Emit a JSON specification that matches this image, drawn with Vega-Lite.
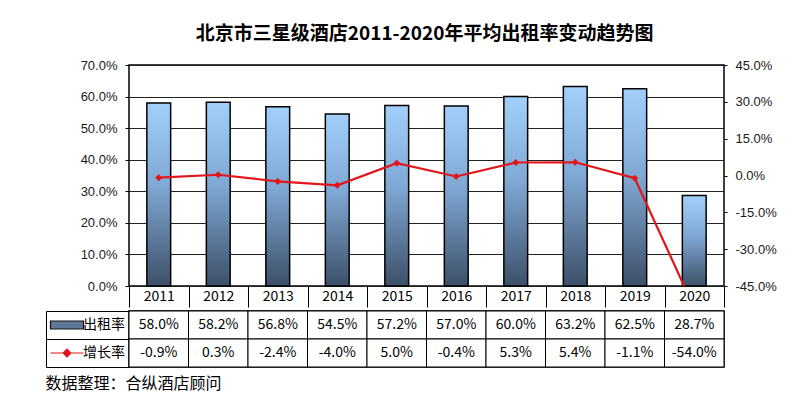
{
  "$schema": "https://vega.github.io/schema/vega-lite/v6.json",
  "background": "white",
  "padding": {"left": 44, "top": 25, "right": 5, "bottom": 5},
  "title": {
    "text": "北京市三星级酒店2011-2020年平均出租率变动趋势图",
    "font": "Noto Sans CJK SC",
    "fontSize": 19,
    "fontWeight": "bold",
    "color": "black",
    "anchor": "start",
    "frame": "bounds",
    "dx": 151,
    "offset": 14
  },
  "config": {
    "view": {"stroke": "black", "strokeWidth": 1.5},
    "locale": {"number": {"decimal": ".", "thousands": ",", "grouping": [3], "currency": ["", ""], "minus": "-"}},
    "font": "Noto Sans CJK SC",
    "axis": {"labelColor": "black", "tickColor": "black", "domainColor": "black"}
  },
  "data": {
    "values": [
      {"year": "2011", "出租率": 0.580, "增长率": -0.009},
      {"year": "2012", "出租率": 0.582, "增长率": 0.003},
      {"year": "2013", "出租率": 0.568, "增长率": -0.024},
      {"year": "2014", "出租率": 0.545, "增长率": -0.040},
      {"year": "2015", "出租率": 0.572, "增长率": 0.050},
      {"year": "2016", "出租率": 0.570, "增长率": -0.004},
      {"year": "2017", "出租率": 0.600, "增长率": 0.053},
      {"year": "2018", "出租率": 0.632, "增长率": 0.054},
      {"year": "2019", "出租率": 0.625, "增长率": -0.011},
      {"year": "2020", "出租率": 0.287, "增长率": -0.540}
    ]
  },
  "spacing": 0,
  "resolve": {
    "scale": {"x": "independent", "y": "independent", "color": "independent"},
    "legend": {"color": "independent"}
  },
  "vconcat": [
    {
      "width": 595,
      "height": 221,
      "resolve": {"scale": {"y": "independent"}},
      "layer": [
        {
          "mark": {
            "type": "bar",
            "width": {"band": 0.4},
            "stroke": "black",
            "strokeWidth": 1.5,
            "color": {
              "gradient": "linear",
              "x1": 0, "y1": 0, "x2": 0, "y2": 1,
              "stops": [
                {"offset": 0, "color": "#a2d0fb"},
                {"offset": 0.45, "color": "#7fa8d4"},
                {"offset": 1, "color": "#3d5069"}
              ]
            }
          },
          "encoding": {
            "x": {
              "field": "year",
              "type": "ordinal",
              "scale": {"paddingInner": 0, "paddingOuter": 0},
              "axis": {
                "title": null,
                "labelAngle": 0,
                "ticks": true,
                "tickBand": "extent",
                "tickSize": 21,
                "tickWidth": 1,
                "tickColor": "black",
                "tickOpacity": 1,
                "labelPadding": -18,
                "labelFontSize": 14,
                "labelFont": "Noto Sans CJK SC",
                "domain": false
              }
            },
            "y": {
              "field": "出租率",
              "type": "quantitative",
              "scale": {"domain": [0, 0.7], "nice": false},
              "axis": {
                "title": null,
                "format": ".1%",
                "values": [0, 0.1, 0.2, 0.3, 0.4, 0.5, 0.6, 0.7],
                "grid": true,
                "gridColor": "#222222",
                "gridWidth": 1,
                "domain": false,
                "tickSize": 4,
                "labelPadding": 8,
                "labelFont": "Liberation Sans",
                "labelFontSize": 13,
                "labelColor": "#1a1a1a"
              }
            }
          }
        },
        {
          "encoding": {
            "x": {"field": "year", "type": "ordinal"},
            "y": {
              "field": "增长率",
              "type": "quantitative",
              "scale": {"domain": [-0.45, 0.45], "nice": false},
              "axis": {
                "title": null,
                "orient": "right",
                "format": ".1%",
                "values": [-0.45, -0.3, -0.15, 0, 0.15, 0.3, 0.45],
                "grid": false,
                "domain": false,
                "tickSize": 3,
                "labelPadding": 8,
                "labelFont": "Liberation Sans",
                "labelFontSize": 13,
                "labelColor": "#1a1a1a"
              }
            }
          },
          "layer": [
            {"mark": {"type": "line", "color": "#e0161b", "strokeWidth": 2.2, "clip": true}},
            {"mark": {"type": "point", "shape": "diamond", "filled": true, "color": "#e0161b", "size": 50, "opacity": 1, "clip": true}}
          ]
        }
      ]
    },
    {
      "width": 595,
      "height": 56,
      "title": {
        "text": "数据整理：合纵酒店顾问",
        "orient": "bottom",
        "anchor": "start",
        "frame": "bounds",
        "font": "Noto Sans CJK SC",
        "fontSize": 16,
        "fontWeight": "normal",
        "color": "black",
        "offset": 8
      },
      "transform": [{"fold": ["出租率", "增长率"], "as": ["row", "value"]}],
      "encoding": {
        "x": {
          "field": "year",
          "type": "ordinal",
          "scale": {"paddingInner": 0, "paddingOuter": 0},
          "axis": null
        },
        "y": {
          "field": "row",
          "type": "nominal",
          "sort": ["出租率", "增长率"],
          "scale": {"paddingInner": 0, "paddingOuter": 0},
          "axis": {
            "title": null,
            "labels": false,
            "offset": 83,
            "tickBand": "extent",
            "tickSize": -83,
            "tickWidth": 1,
            "domainWidth": 1
          }
        }
      },
      "layer": [
        {"mark": {"type": "rect", "fill": "white", "stroke": "black", "strokeWidth": 1}},
        {
          "mark": {"type": "text", "fontSize": 14, "font": "Noto Sans CJK SC", "color": "black"},
          "encoding": {
            "text": {"field": "value", "type": "quantitative", "format": ".1%"}
          }
        },
        {
          "mark": {"type": "point", "filled": true, "opacity": 0},
          "encoding": {
            "color": {
              "field": "row",
              "type": "nominal",
              "scale": {"domain": ["出租率", "增长率"], "range": ["#5f7898", "#e0161b"]},
              "legend": {
                "orient": "none",
                "legendX": -73,
                "legendY": 3,
                "title": null,
                "symbolSize": 400,
                "rowPadding": 10,
                "labelOffset": 5,
                "labelFontSize": 14,
                "labelFont": "Noto Sans CJK SC",
                "labelColor": "black",
                "encode": {
                  "symbols": {
                    "update": {
                      "shape": {"signal": "datum.value === '出租率' ? 'M-1.65,-0.4L1.65,-0.4L1.65,0.4L-1.65,0.4Z' : 'M-1.65,0L1.65,0M0,-0.38L0.38,0L0,0.38L-0.38,0Z'"},
                      "stroke": {"signal": "datum.value === '出租率' ? '#111111' : '#e0161b'"},
                      "strokeWidth": {"value": 1.2},
                      "opacity": {"value": 1},
                      "fillOpacity": {"value": 1},
                      "strokeOpacity": {"value": 1}
                    }
                  }
                }
              }
            }
          }
        }
      ]
    }
  ]
}
